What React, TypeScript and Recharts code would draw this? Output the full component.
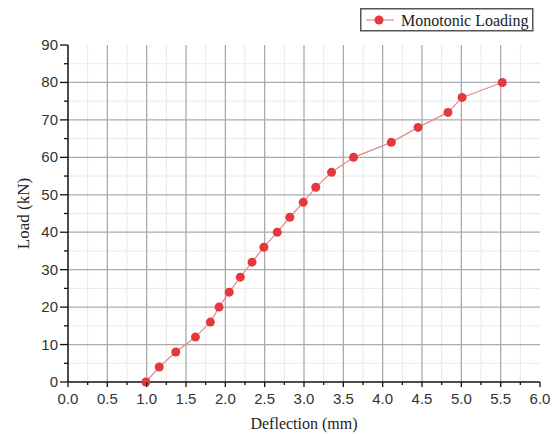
import React from "react";
import {
  ComposedChart,
  Line,
  XAxis,
  YAxis,
  CartesianGrid,
  Legend,
  Label,
} from "recharts";

const deflection = [
  0.99, 1.16, 1.37, 1.62, 1.81, 1.92, 2.05, 2.19, 2.34, 2.49, 2.66, 2.82, 2.99,
  3.15, 3.35, 3.63, 4.11, 4.45, 4.83, 5.01, 5.52,
];
const load = [
  0, 4, 8, 12, 16, 20, 24, 28, 32, 36, 40, 44, 48, 52, 56, 60, 64, 68, 72, 76,
  80,
];

const xMajorTicks = [0, 0.5, 1, 1.5, 2, 2.5, 3, 3.5, 4, 4.5, 5, 5.5, 6];
const xMinorTicks = [
  0.25, 0.75, 1.25, 1.75, 2.25, 2.75, 3.25, 3.75, 4.25, 4.75, 5.25, 5.75,
];
const yMajorTicks = [0, 10, 20, 30, 40, 50, 60, 70, 80, 90];
const yMinorTicks = [5, 15, 25, 35, 45, 55, 65, 75, 85];

const xMajorGrid = [0.5, 1, 1.5, 2, 2.5, 3, 3.5, 4, 4.5, 5, 5.5];
const yMajorGrid = [10, 20, 30, 40, 50, 60, 70, 80];

const data = deflection.map((d, i) => ({ deflection: d, load: load[i] }));

const allXTicks = [...xMajorTicks, ...xMinorTicks].sort((a, b) => a - b);
const allYTicks = [...yMajorTicks, ...yMinorTicks].sort((a, b) => a - b);

const TICK_FONT = "'Liberation Sans', Arial, sans-serif";
const SERIF = "'Liberation Serif', 'Times New Roman', serif";

const XTick = (props: any) => {
  const { x, y, payload } = props;
  const v = payload.value as number;
  const major = xMajorTicks.includes(v);
  return (
    <g>
      <line
        x1={x}
        x2={x}
        y1={y}
        y2={y + (major ? 5 : 3)}
        stroke="#111"
        strokeWidth={1.3}
      />
      {major && (
        <text
          x={x}
          y={y + 22}
          textAnchor="middle"
          fill="#333"
          fontSize={15}
          fontFamily={TICK_FONT}
        >
          {v.toFixed(1)}
        </text>
      )}
    </g>
  );
};

const YTick = (props: any) => {
  const { x, y, payload } = props;
  const v = payload.value as number;
  const major = yMajorTicks.includes(v);
  return (
    <g>
      <line
        x1={x - (major ? 8 : 4)}
        x2={x}
        y1={y}
        y2={y}
        stroke="#111"
        strokeWidth={1.3}
      />
      {major && (
        <text
          x={x - 10}
          y={y + 5}
          textAnchor="end"
          fill="#333"
          fontSize={15}
          fontFamily={TICK_FONT}
        >
          {v}
        </text>
      )}
    </g>
  );
};

const LegendBox = (props: any) => {
  const entry = props.payload && props.payload[0];
  const name = entry ? entry.value : "Monotonic Loading";
  return (
    <svg width={174} height={24} style={{ display: "block" }}>
      <rect
        x={0.75}
        y={0.75}
        width={172}
        height={22}
        fill="#fff"
        stroke="#555"
        strokeWidth={1.5}
      />
      <line x1={6} x2={34} y1={12} y2={12} stroke="#e38a8a" strokeWidth={1.2} />
      <circle cx={19} cy={12} r={4.5} fill="#e5383d" />
      <text
        x={41}
        y={17.5}
        fontSize={16}
        fontFamily={SERIF}
        fill="#222"
      >
        {name}
      </text>
    </svg>
  );
};

const YLabel = (props: any) => {
  const vb = props.viewBox || {};
  const cx = vb.x + 23;
  const cy = vb.y + vb.height / 2;
  return (
    <text
      x={cx}
      y={cy}
      transform={`rotate(-90 ${cx} ${cy})`}
      textAnchor="middle"
      dominantBaseline="central"
      fontSize={17}
      fontFamily={SERIF}
      fill="#222"
    >
      Load (kN)
    </text>
  );
};

export default function App() {
  return (
    <div style={{ position: "absolute", left: 0, top: 0, background: "#fff" }}>
      <ComposedChart
        width={558}
        height={434}
        data={data}
        margin={{ top: 45, right: 18, bottom: 0, left: 0 }}
      >
        <CartesianGrid
          horizontalValues={yMinorTicks}
          verticalValues={xMinorTicks}
          stroke="#e9e9e9"
          strokeWidth={1}
        />
        <CartesianGrid
          horizontalValues={yMajorGrid}
          verticalValues={xMajorGrid}
          stroke="#ababab"
          strokeWidth={1.3}
        />
        <XAxis
          dataKey="deflection"
          type="number"
          domain={[0, 6]}
          ticks={allXTicks}
          interval={0}
          height={52}
          tickSize={0}
          tickMargin={0}
          tickLine={false}
          axisLine={{ stroke: "#111", strokeWidth: 1.5 }}
          tick={<XTick />}
        >
          <Label
            value="Deflection (mm)"
            position="insideBottom"
            offset={5}
            fontSize={16}
            fontFamily={SERIF}
            fill="#222"
          />
        </XAxis>
        <YAxis
          type="number"
          domain={[0, 90]}
          ticks={allYTicks}
          interval={0}
          width={68}
          tickSize={0}
          tickMargin={0}
          tickLine={false}
          axisLine={{ stroke: "#111", strokeWidth: 1.5 }}
          tick={<YTick />}
        >
          <Label content={<YLabel />} />
        </YAxis>
        <Legend
          layout="horizontal"
          verticalAlign="middle"
          align="center"
          content={<LegendBox />}
          wrapperStyle={{ left: 360, top: 8, width: 174, height: 24 }}
        />
        <Line
          name="Monotonic Loading"
          type="linear"
          dataKey="load"
          stroke="#e38a8a"
          strokeWidth={1.2}
          dot={{ r: 4.5, fill: "#e5383d", stroke: "none" }}
          activeDot={false}
          isAnimationActive={false}
        />
      </ComposedChart>
    </div>
  );
}
